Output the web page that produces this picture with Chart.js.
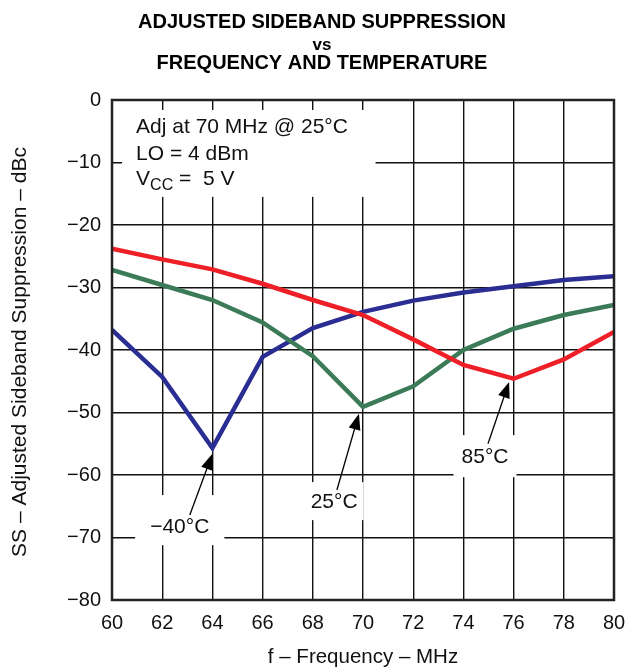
<!DOCTYPE html>
<html>
<head>
<meta charset="utf-8">
<script src="https://cdn.jsdelivr.net/npm/chart.js@4"></script>
<style>
  html, body { margin: 0; padding: 0; background: #fff; }
  #wrap { width: 626px; height: 671px; }
</style>
</head>
<body>
<div id="wrap"><canvas id="ssChart" width="626" height="671"></canvas></div>
<script>
// frequency in MHz
var freq = [60, 62, 64, 66, 68, 70, 72, 74, 76, 78, 80];
// adjusted sideband suppression, dBc
var ss85 = [-23.8, -25.5, -27.1, -29.4, -32.0, -34.4, -38.3, -42.4, -44.6, -41.5, -37.1];
var ss25 = [-27.2, -29.6, -32.0, -35.6, -41.0, -49.1, -45.8, -40.0, -36.6, -34.4, -32.8];
var ssM40 = [-36.8, -44.3, -55.7, -41.1, -36.5, -33.9, -32.1, -30.8, -29.8, -28.8, -28.2];

var FONT = "'Liberation Sans', Arial, sans-serif";

function pts(ys) {
  return freq.map(function (f, i) { return { x: f, y: ys[i] }; });
}

// labels with arrows, in data units; box = white knock-out [padX, above, below]
var notes = [
  { text: '\u221240\u00b0C', x: 62.7, y: -69.3, from: [63.1, -66.4], to: [64.0, -56.6], box: [15, 38, 12] },
  { text: '25\u00b0C', x: 68.85, y: -65.3, from: [68.96, -62.4], to: [69.84, -50.2], box: [6, 26, 12] },
  { text: '85\u00b0C', x: 74.86, y: -58.1, from: [74.98, -55.0], to: [75.82, -45.1], box: [8, 28, 14] }
];

function arrow(ctx, x1, y1, x2, y2) {
  var a = Math.atan2(y2 - y1, x2 - x1);
  var len = 16, w = 6;
  ctx.beginPath();
  ctx.moveTo(x1, y1);
  ctx.lineTo(x2 - Math.cos(a) * len * 0.8, y2 - Math.sin(a) * len * 0.8);
  ctx.lineWidth = 1.3;
  ctx.strokeStyle = '#000';
  ctx.stroke();
  ctx.beginPath();
  ctx.moveTo(x2, y2);
  ctx.lineTo(x2 - Math.cos(a) * len + Math.sin(a) * w, y2 - Math.sin(a) * len - Math.cos(a) * w);
  ctx.lineTo(x2 - Math.cos(a) * len - Math.sin(a) * w, y2 - Math.sin(a) * len + Math.cos(a) * w);
  ctx.closePath();
  ctx.fillStyle = '#000';
  ctx.fill();
}

var decor = {
  id: 'decor',
  beforeDatasetsDraw: function (chart) {
    var ctx = chart.ctx, sx = chart.scales.x, sy = chart.scales.y;
    ctx.save();
    ctx.fillStyle = '#fff';
    // box behind conditions text
    var bx1 = sx.getPixelForValue(60.4), bx2 = sx.getPixelForValue(70.5);
    var by1 = sy.getPixelForValue(-1.6), by2 = sy.getPixelForValue(-15.5);
    ctx.fillRect(bx1, by1, bx2 - bx1, by2 - by1);
    ctx.font = '21px ' + FONT;
    notes.forEach(function (n) {
      var w = ctx.measureText(n.text).width;
      var px = sx.getPixelForValue(n.x), py = sy.getPixelForValue(n.y);
      ctx.fillRect(px - w / 2 - n.box[0], py - n.box[1], w + 2 * n.box[0], n.box[1] + n.box[2]);
    });
    ctx.restore();
  },
  afterDatasetsDraw: function (chart) {
    var ctx = chart.ctx, sx = chart.scales.x, sy = chart.scales.y, a = chart.chartArea;
    ctx.save();
    // frame
    ctx.strokeStyle = '#222';
    ctx.lineWidth = 2.5;
    ctx.strokeRect(a.left, a.top, a.right - a.left, a.bottom - a.top);

    ctx.fillStyle = '#111';
    ctx.textBaseline = 'alphabetic';
    ctx.textAlign = 'left';
    ctx.font = '21px ' + FONT;
    var tx = sx.getPixelForValue(60.96);
    ctx.fillText('Adj at 70 MHz @ 25\u00b0C', tx, sy.getPixelForValue(-5.3));
    ctx.fillText('LO = 4 dBm', tx, sy.getPixelForValue(-9.6));
    var vy = sy.getPixelForValue(-13.6);
    ctx.fillText('V', tx, vy);
    var vw = ctx.measureText('V').width;
    ctx.font = '16px ' + FONT;
    ctx.fillText('CC', tx + vw, vy + 5);
    var cw = ctx.measureText('CC').width;
    ctx.font = '21px ' + FONT;
    ctx.fillText(' =  5 V', tx + vw + cw, vy);

    ctx.textAlign = 'center';
    notes.forEach(function (n) {
      ctx.fillStyle = '#111';
      ctx.fillText(n.text, sx.getPixelForValue(n.x), sy.getPixelForValue(n.y));
      arrow(ctx, sx.getPixelForValue(n.from[0]), sy.getPixelForValue(n.from[1]),
        sx.getPixelForValue(n.to[0]), sy.getPixelForValue(n.to[1]));
    });
    ctx.restore();
  },
  afterDraw: function (chart) {
    var ctx = chart.ctx, a = chart.chartArea;
    ctx.save();
    ctx.fillStyle = '#000';
    ctx.textAlign = 'center';
    ctx.textBaseline = 'alphabetic';
    var tcx = 322;
    ctx.font = 'bold 20px ' + FONT;
    ctx.fillText('ADJUSTED SIDEBAND SUPPRESSION', tcx, 28);
    ctx.font = 'bold 17px ' + FONT;
    ctx.fillText('vs', tcx, 50);
    ctx.font = 'bold 20px ' + FONT;
    ctx.fillText('FREQUENCY AND TEMPERATURE', tcx, 69);

    var cx = (a.left + a.right) / 2;
    ctx.font = '20.5px ' + FONT;
    ctx.fillStyle = '#111';
    ctx.fillText('f \u2013 Frequency \u2013 MHz', cx, 663);
    ctx.font = '21px ' + FONT;
    ctx.translate(26, (a.top + a.bottom) / 2 + 2);
    ctx.rotate(-Math.PI / 2);
    ctx.fillText('SS \u2013 Adjusted Sideband Suppression \u2013 dBc', 0, 0);
    ctx.restore();
  }
};

var ctx = document.getElementById('ssChart');

var myChart = new Chart(ctx, {
  type: 'line',
  data: {
    datasets: [
      { label: '85\u00b0C', data: pts(ss85), borderColor: '#ee1f26' },
      { label: '25\u00b0C', data: pts(ss25), borderColor: '#3c7b58' },
      { label: '-40\u00b0C', data: pts(ssM40), borderColor: '#2a2d92' }
    ]
  },
  options: {
    responsive: false,
    animation: false,
    layout: { padding: { top: 100, right: 12, left: 0, bottom: 0 }, autoPadding: false },
    elements: {
      line: { borderWidth: 4.5, tension: 0, fill: false },
      point: { radius: 0 }
    },
    plugins: { legend: { display: false }, tooltip: { enabled: false }, title: { display: false } },
    scales: {
      x: {
        type: 'linear',
        min: 60, max: 80,
        afterFit: function (s) { s.height = 71; s.paddingLeft = 0; s.paddingRight = 0; },
        ticks: { stepSize: 2, color: '#111', padding: 11, font: { family: FONT, size: 20 }, maxRotation: 0 },
        grid: { color: '#111', lineWidth: 1.4, drawTicks: false },
        border: { display: false }
      },
      y: {
        min: -80, max: 0,
        afterFit: function (s) { s.width = 112; s.paddingTop = 0; s.paddingBottom = 0; },
        ticks: {
          stepSize: 10, color: '#111', padding: 11, font: { family: FONT, size: 20 },
          callback: function (v) { return String(v).replace('-', '\u2212'); }
        },
        grid: { color: '#111', lineWidth: 1.4, drawTicks: false },
        border: { display: false }
      }
    }
  },
  plugins: [decor]
});
</script>
</body>
</html>
